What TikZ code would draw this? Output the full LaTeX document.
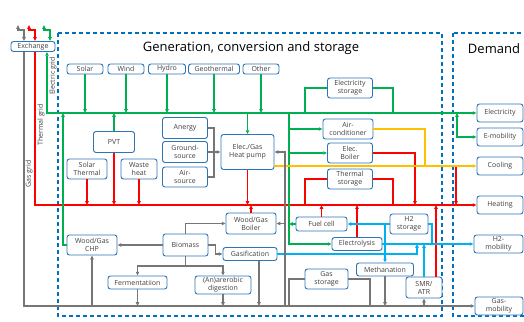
\documentclass[tikz,border=0pt]{standalone}
\usepackage{fontspec}
\setmainfont{Open Sans}
\usetikzlibrary{arrows.meta}

\definecolor{gasgray}{RGB}{118,118,118}
\definecolor{elecgreen}{RGB}{0,176,80}
\definecolor{heatred}{RGB}{255,0,0}
\definecolor{coolyellow}{RGB}{255,192,0}
\definecolor{hydroblue}{RGB}{0,176,240}
\definecolor{boxblue}{RGB}{46,117,182}
\definecolor{areablue}{RGB}{0,112,192}
\definecolor{textgray}{RGB}{64,64,64}

\begin{document}
\begin{tikzpicture}[
  x = 1pt, y = -1pt,
  every node/.style = {font=\fontsize{7}{8}\selectfont, text=textgray, inner sep=1pt},
  box/.style = {draw=boxblue, fill=white, rounded corners=2.5pt, line width=0.9pt, align=center},
  area/.style = {draw=areablue, dash pattern=on 4pt off 3pt, line width=1.3pt},
  >={Triangle[length=3.8pt, width=3.4pt]},
  gas/.style = {gasgray, line width=1.1pt},
  elec/.style = {elecgreen, line width=1.1pt},
  heat/.style = {heatred, line width=1.1pt},
  cool/.style = {coolyellow, line width=1.1pt},
  hydro/.style = {hydroblue, line width=1.1pt},
]
\useasboundingbox (0,0) rectangle (524,321);

% dashed areas and their titles
\draw[area] (58,33) rectangle (442,316);
\draw[area] (453,33) rectangle (540,316);
\node[font=\fontsize{13}{15}\selectfont, text=black] (gentitle) at (251,48) {Generation, conversion and storage};
\node[font=\fontsize{13}{15}\selectfont, text=black] (demtitle) at (494,49) {Demand};

\node[box, minimum width=44, minimum height=10] (exch) at (33,46.5) {Exchange};

% sources
\node[box, minimum width=36, minimum height=10] (solar) at (85,69) {Solar};
\node[box, minimum width=36, minimum height=10] (wind)  at (126,69) {Wind};
\node[box, minimum width=37, minimum height=10] (hydro) at (167,69) {Hydro};
\node[box, minimum width=51, minimum height=10] (geo)   at (214,69) {Geothermal};
\node[box, minimum width=36, minimum height=10] (other) at (261,69) {Other};

\node[box, minimum width=45, minimum height=20] (estor)  at (350,88)  {Electricity\\storage};
\node[box, minimum width=41, minimum height=21] (pvt)    at (114,142) {PVT};
\node[box, minimum width=40, minimum height=20] (solth)  at (87,169)  {Solar\\Thermal};
\node[box, minimum width=36, minimum height=20] (waste)  at (139,169) {Waste\\heat};
\node[box, minimum width=45, minimum height=21] (anergy) at (185,128) {Anergy};
\node[box, minimum width=45, minimum height=21] (ground) at (185,152) {Ground-\\source};
\node[box, minimum width=45, minimum height=20] (air)    at (185,177) {Air-\\source};
\node[box, minimum width=53, minimum height=35] (hp)     at (247.5,152) {Elec./Gas\\Heat pump};
\node[box, minimum width=50, minimum height=20] (aircon) at (348,129) {Air-\\conditioner};
\node[box, minimum width=45, minimum height=20] (eboil)  at (350,153) {Elec.\\Boiler};
\node[box, minimum width=45, minimum height=20] (tstor)  at (350,179) {Thermal\\storage};
\node[box, minimum width=50, minimum height=21] (boiler) at (251,223.5) {Wood/Gas\\Boiler};
\node[box, minimum width=51, minimum height=14] (fuel)   at (321.5,224) {Fuel cell};
\node[box, minimum width=38, minimum height=20] (h2stor) at (409,224) {H2\\storage};
\node[box, minimum width=50, minimum height=13] (elys)   at (357,244) {Electrolysis};
\node[box, minimum width=50, minimum height=20] (chp)    at (92,245)  {Wood/Gas\\CHP};
\node[box, minimum width=45, minimum height=22] (biomass) at (185.5,245) {Biomass};
\node[box, minimum width=54, minimum height=13] (gasif)  at (250,254) {Gasification};
\node[box, minimum width=59, minimum height=13] (ferm)   at (137.5,282.5) {Fermentatiion};
\node[box, minimum width=56, minimum height=18] (diges)  at (223,285) {(An)arerobic\\digestion};
\node[box, minimum width=43, minimum height=20] (gstor)  at (326.5,279) {Gas\\storage};
\node[box, minimum width=57, minimum height=13] (meth)   at (385,269.5) {Methanation};
\node[box, minimum width=36, minimum height=21] (smr)    at (424,287.5) {SMR/\\ATR};

% demand
\node[box, minimum width=46, minimum height=18] (elec)   at (500,113) {Electricity};
\node[box, minimum width=46, minimum height=18] (emob)   at (500,137) {E-mobility};
\node[box, minimum width=46, minimum height=18] (cool)   at (500,166) {Cooling};
\node[box, minimum width=46, minimum height=18] (heat)   at (500,205) {Heating};
\node[box, minimum width=49, minimum height=18] (h2mob)  at (498.5,244) {H2-\\mobility};
\node[box, minimum width=48, minimum height=18] (gasmob) at (499,306) {Gas-\\mobility};

% grids
\coordinate (eg) at (47,113);
\coordinate (tg) at (35,205);
\coordinate (gg) at (24,306);
\coordinate (ev) at (289,113);
\coordinate (gv) at (285,306);

\node[rotate=90] (gaslabel)  at (29,174) {Gas grid};
\node[rotate=90] (heatlabel) at (41,125) {Thermal grid};
\node[rotate=90] (eleclabel) at (53,76)  {Electric grid};

\foreach \col/\xa/\xb in {gas/18/24, heat/29/35, elec/44/50} {
  \coordinate (out-\col) at (\xa,25);
  \draw[\col, <->] (out-\col) |- (\xb,30) -- (exch.north -| \xb,0);
}
\draw[elec, <->] (exch.south -| eg) -- (eg) -- (elec.west);
\draw[heat, ->] (exch.south -| tg) -- (tg) -- (heat.west);
\draw[gas, ->] (exch.south -| gg) -- (gg) -- (gasmob.west);

% electricity
\foreach \src in {solar, wind, hydro, geo, other}
  \draw[elec, ->] (\src.south) -- (\src.south |- eg);
\draw[elec] (eg -| 305,0) |- (estor.west);
\draw[elec] (estor.east) -| (eg -| 393,0);
\draw[elec, ->] (pvt.north) -- (pvt.north |- eg);
\draw[elec, ->] (hp.north |- eg) -- (hp.north);
\draw[elec, ->] (ev) |- (elys.west);
\draw[elec, ->] (ev |- aircon.west) -- (aircon.west);
\draw[elec, ->] (ev |- eboil.west) -- (eboil.west);
\draw[elec, ->] (fuel.west) -- (fuel.west -| ev);
\draw[elec, ->] (chp.west) -| (eg -| 63,0);
\draw[elec, <->] (eg -| 457,0) |- (emob.west);

% heat
\foreach \src in {pvt, solth, waste}
  \draw[heat, ->] (\src.south) -- (\src.south |- tg);
\draw[heat, ->] (hp.south) -- (hp.south |- tg);
\draw[heat, ->] (eboil.east) -| (tg -| 415,0);
\draw[heat] (tg -| 305,0) |- (tstor.west);
\draw[heat] (tstor.east) -| (tg -| 393,0);
\draw[heat, ->] (cool.west -| 456,0) -- (tg -| 456,0);
\foreach \src in {boiler, fuel, elys}
  \draw[heat, ->] (\src.north) -- (\src.north |- tg);
\draw[heat, ->] (smr.north -| 436,0) -- (tg -| 436,0);

% cooling
\draw[cool, ->] (hp.east |- cool.west) -- (cool.west);
\draw[cool] (aircon.east) -| (cool.west -| 425,0);

% hydrogen
\draw[hydro, ->] (elys.east) -- (h2mob.west);
\draw[hydro, ->] (h2stor.west) -- (fuel.east);
\draw[hydro] (h2stor.east) -| (h2mob.west -| 432,0);
\draw[hydro, ->] (h2stor.west -| meth.north) -- (meth.north);
\draw[hydro, ->] (gasif.east) -| (h2mob.west -| 417,0);
\draw[hydro, ->] (smr.north) -- (smr.north |- h2mob.west);

% gas and biomass
\draw[gas] (anergy.east) -| (214,152);
\draw[gas] (air.east) -| (214,152);
\draw[gas, ->] (ground.east) -- (hp.west);
\draw[gas, ->] (gv) |- (hp.east);
\draw[gas, ->] (gv |- boiler.east) -- (boiler.east);
\draw[gas, ->] (biomass.west) -- (chp.east);
\draw[gas, ->] (biomass.north) |- (boiler.west);
\draw[gas, ->] (biomass.east) -- ++(7,0) |- (gasif.west);
\coordinate (bsplit) at (185.5,266);
\draw[gas, ->] (biomass.south) -- (bsplit) -| (ferm.north);
\draw[gas, ->] (bsplit) -| (diges.north);
\draw[gas, ->] (ferm.south) -- (ferm.south |- gg);
\draw[gas, ->] (diges.south) -- (diges.south |- gg);
\draw[gas, ->] (gasif.south -| 259,0) -- (gg -| 259,0);
\draw[gas, ->] (meth.south) -- (meth.south |- gg);
\draw[gas, ->] (smr.south |- gg) -- (smr.south);
\draw[gas, ->] (chp.south |- gg) -- (chp.south);
\draw[gas] (gg -| 289,0) |- (gstor.west);
\draw[gas] (gstor.east) -| (gg -| 370,0);

\end{tikzpicture}
\end{document}
